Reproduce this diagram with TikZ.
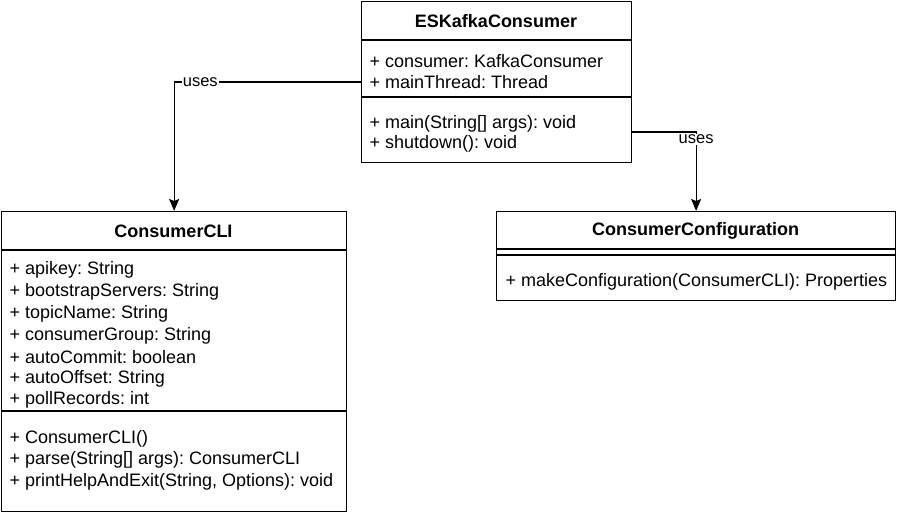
\documentclass[tikz,border=0pt]{standalone}
\usepackage{fontspec}
\setmainfont{Liberation Sans}
\usetikzlibrary{arrows.meta}
\frenchspacing
\begin{document}
\begin{tikzpicture}[x=1pt,y=-1pt,line width=1.25pt,
  classbox/.style={draw,anchor=north west,inner sep=0pt},
  title/.style={font=\fontsize{18}{20}\selectfont\bfseries,inner sep=0pt},
  member/.style={font=\fontsize{18}{20}\selectfont,anchor=west,inner sep=0pt},
  arr/.style={-{Stealth[length=12pt,width=10pt,inset=2pt]}},
  lbl/.style={font=\fontsize{16.5}{18}\selectfont,fill=white,inner sep=1pt}]
\useasboundingbox (0,0) rectangle (897,516);
% ESKafkaConsumer
\node[classbox,minimum width=270pt,minimum height=161pt] (esk) at (361,1) {};
\draw (361,40) -- (631,40);
\draw (361,97) -- (631,97);
\node[title] (eskt) at (496,21) {ESKafkaConsumer};
\node[member] (eska1) at (369,61) {+ consumer: KafkaConsumer};
\node[member] (eska2) at (369,82) {+ mainThread: Thread};
\node[member] (eskm1) at (369,124) {+ main(String[] args): void};
\node[member] (eskm2) at (369,144) {+ shutdown(): void};
% ConsumerCLI
\node[classbox,minimum width=345pt,minimum height=300pt] (cli) at (1,211) {};
\draw (1,250) -- (346,250);
\draw (1,411) -- (346,411);
\node[title] (clit) at (173.5,231) {ConsumerCLI};
\node[member] (clia1) at (9,270) {+ apikey: String};
\node[member] (clia2) at (9,292) {+ bootstrapServers: String};
\node[member] (clia3) at (9,314) {+ topicName: String};
\node[member] (clia4) at (9,336) {+ consumerGroup: String};
\node[member] (clia5) at (9,357) {+ autoCommit: boolean};
\node[member] (clia6) at (9,379) {+ autoOffset: String};
\node[member] (clia7) at (9,400) {+ pollRecords: int};
\node[member] (clim1) at (9,439) {+ ConsumerCLI()};
\node[member] (clim2) at (9,460) {+ parse(String[] args): ConsumerCLI};
\node[member] (clim3) at (9,482) {+ printHelpAndExit(String, Options): void};
% ConsumerConfiguration
\node[classbox,minimum width=399pt,minimum height=89pt] (cfg) at (496,211) {};
\draw (496,249) -- (895,249);
\draw (496,255) -- (895,255);
\node[title] (cfgt) at (695.5,231) {ConsumerConfiguration};
\node[member] (cfgm1) at (505,282) {+ makeConfiguration(ConsumerCLI): Properties};
% connectors
\coordinate (eskout) at (631,132);
\draw[arr] (esk.west) -| node[lbl,pos=0.43] (u1) {uses} (cli.north);
\draw[arr] (eskout) -| node[lbl,pos=0.545] (u2) {uses} (cfg.north);
\end{tikzpicture}
\end{document}
